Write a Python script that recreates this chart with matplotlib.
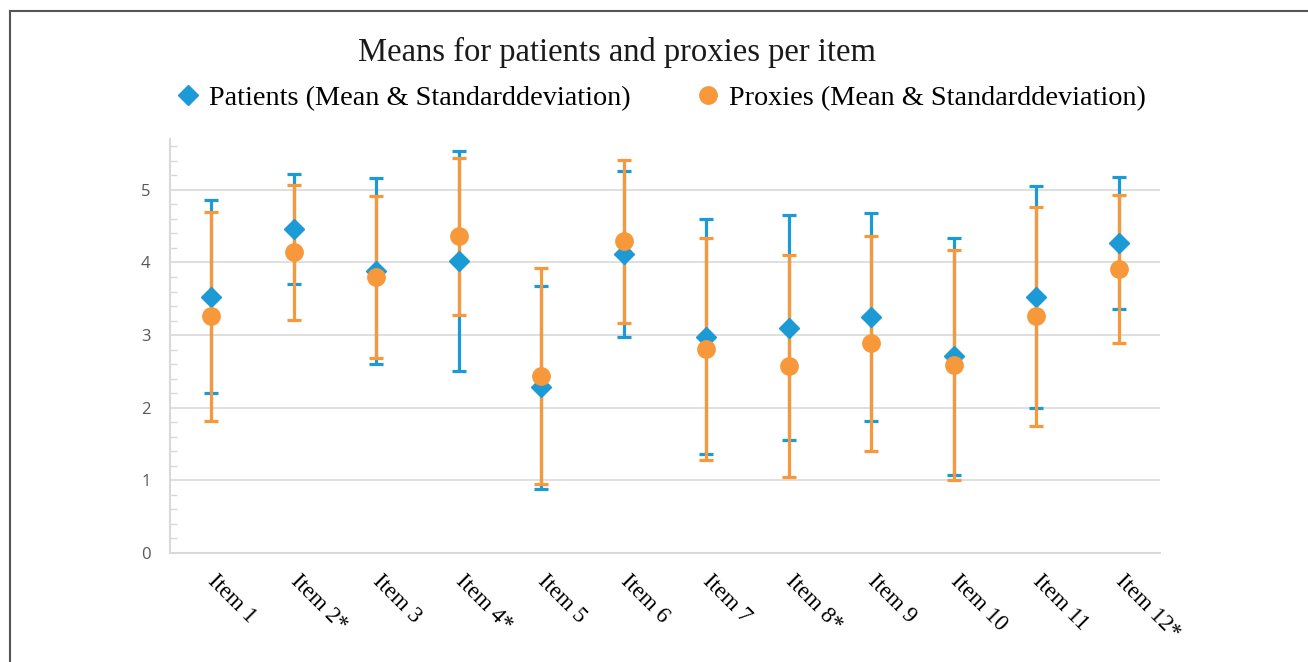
import numpy as np
import matplotlib.pyplot as plt
from matplotlib.lines import Line2D

# Item labels (asterisk marks significant difference)
items = ['Item 1', 'Item 2*', 'Item 3', 'Item 4*', 'Item 5', 'Item 6',
         'Item 7', 'Item 8*', 'Item 9', 'Item 10', 'Item 11', 'Item 12*']

# Patients: mean and standard deviation per item
patients_mean = [3.53, 4.46, 3.88, 4.02, 2.28, 4.12, 2.98, 3.10, 3.25, 2.71, 3.52, 4.27]
patients_sd = [1.33, 0.76, 1.28, 1.51, 1.40, 1.14, 1.62, 1.55, 1.43, 1.63, 1.53, 0.91]

# Proxies: mean and standard deviation per item
proxies_mean = [3.26, 4.14, 3.80, 4.36, 2.44, 4.29, 2.81, 2.57, 2.89, 2.59, 3.26, 3.91]
proxies_sd = [1.44, 0.93, 1.11, 1.08, 1.49, 1.12, 1.53, 1.53, 1.48, 1.58, 1.51, 1.02]

blue = '#1b9ad6'
orange = '#f7983a'
grid_col = '#d9d9d9'

fig = plt.figure(figsize=(13.08, 6.62), dpi=100)
ax = fig.add_axes([170 / 1308, 1 - 553 / 662, 990 / 1308, (553 - 139) / 662])

x = np.arange(len(items)) + 0.5

# error bars first (blue then orange), then markers on top
ax.errorbar(x, patients_mean, yerr=patients_sd, fmt='none', ecolor=blue,
            elinewidth=2.3, capsize=5, capthick=2.3, zorder=2)
ax.errorbar(x, proxies_mean, yerr=proxies_sd, fmt='none', ecolor=orange,
            elinewidth=2.3, capsize=5, capthick=2.3, zorder=3)
ax.plot(x, patients_mean, linestyle='none', marker='D', markersize=10,
        color=blue, zorder=4)
ax.plot(x, proxies_mean, linestyle='none', marker='o', markersize=12.5,
        color=orange, zorder=5)

ax.set_xlim(0, len(items))
ax.set_ylim(0, 5.7)
ax.set_yticks([0, 1, 2, 3, 4, 5])
ax.set_yticks(np.arange(0.2, 5.7, 0.2), minor=True)
ax.grid(axis='y', which='major', color=grid_col, linewidth=1.2)
ax.set_axisbelow(True)

for side in ['top', 'right']:
    ax.spines[side].set_visible(False)
ax.spines['left'].set_color(grid_col)
ax.spines['bottom'].set_color(grid_col)
ax.spines['left'].set_linewidth(1.5)
ax.spines['bottom'].set_linewidth(1.5)

ax.tick_params(axis='y', which='major', length=0, pad=14,
               labelsize=12, labelcolor='#595959')
ax.tick_params(axis='y', which='minor', direction='in', length=5,
               width=1, color=grid_col)
for lbl in ax.get_yticklabels():
    lbl.set_family(['Open Sans', 'DejaVu Sans'])

ax.set_xticks(x)
ax.set_xticklabels(items, rotation=-45, rotation_mode='anchor',
                   ha='left', va='center', family='Liberation Serif',
                   fontsize=16.5)
ax.tick_params(axis='x', length=0, pad=18)

fig.text(617 / 1308, 1 - 52 / 662, 'Means for patients and proxies per item',
         ha='center', va='center', family='Liberation Serif', fontsize=23.5,
         color='#1a1a1a')

handles = [
    Line2D([], [], linestyle='none', marker='D', markersize=10, color=blue),
    Line2D([], [], linestyle='none', marker='o', markersize=12.5, color=orange),
]
fig.legend(handles, ['Patients (Mean & Standarddeviation)',
                     'Proxies (Mean & Standarddeviation)'],
           loc='center', bbox_to_anchor=(660 / 1308, 1 - 98 / 662), ncol=2,
           frameon=False, prop={'family': 'Liberation Serif', 'size': 20.3},
           handletextpad=0.25, columnspacing=2.25, handlelength=1.0)

# outer frame of the figure panel (left and top edges)
fig.add_artist(Line2D([10 / 1308, 10 / 1308], [0, 1 - 11 / 662],
                      transform=fig.transFigure, color='#555555', linewidth=1.5))
fig.add_artist(Line2D([10 / 1308, 1], [1 - 11 / 662, 1 - 11 / 662],
                      transform=fig.transFigure, color='#555555', linewidth=1.5))

fig.savefig('out.png', dpi=100)
